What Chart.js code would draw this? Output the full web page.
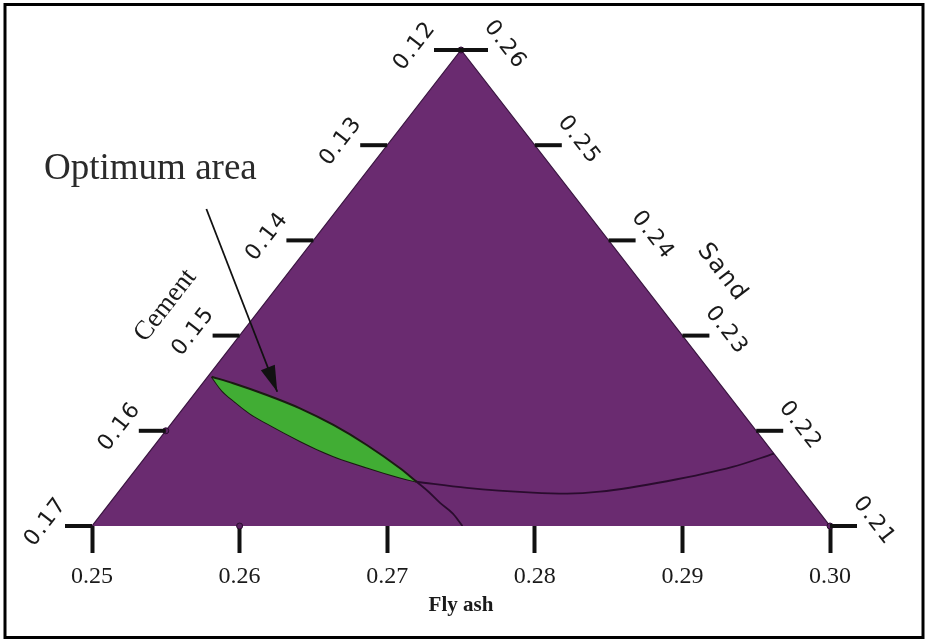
<!DOCTYPE html>
<html>
<head>
<meta charset="utf-8">
<title>Optimum area - ternary plot</title>
<script src="https://cdn.jsdelivr.net/npm/chart.js@4.4.1/dist/chart.umd.min.js"></script>
<style>
  html, body { margin: 0; padding: 0; background: #fff; }
  #wrap { position: relative; width: 929px; height: 644px; }
</style>
</head>
<body>
<div id="wrap"><canvas id="chart" width="929" height="644"></canvas></div>
<script>
// tick values of the three components, they always add up to TOTAL
const flyAshTicks = [0.25, 0.26, 0.27, 0.28, 0.29, 0.30];
const cementTicks = [0.12, 0.13, 0.14, 0.15, 0.16, 0.17];
const sandTicks = [0.21, 0.22, 0.23, 0.24, 0.25, 0.26];
const TOTAL = 0.63;

// curves as [fly ash, sand] pairs
const lensUpper = [[0.25027, 0.22568], [0.25207, 0.22499], [0.25496, 0.22376], [0.25791, 0.22236],
  [0.26105, 0.22061], [0.26436, 0.21851], [0.26784, 0.21606], [0.26967, 0.21465]];
const lensLower = [[0.25027, 0.22568], [0.25169, 0.22423], [0.25318, 0.22303], [0.25479, 0.22182],
  [0.25648, 0.22077], [0.25963, 0.21893], [0.26265, 0.21735], [0.26556, 0.21614], [0.26832, 0.21509], [0.26967, 0.21465]];
const contourRight = [[0.26967, 0.21465], [0.2734, 0.2140], [0.2781, 0.2135], [0.2805, 0.2134],
  [0.2826, 0.2136], [0.2866, 0.2147], [0.2903, 0.2162], [0.2924, 0.2176]];
const contourDown = [[0.26967, 0.21465], [0.2710, 0.2136], [0.2724, 0.2124], [0.2738, 0.2113], [0.2751, 0.2100]];
const arrowLine = [[0.2411, 0.2433], [0.2555, 0.2241]];
const markers = [[0.25, 0.26], [0.25, 0.22], [0.26, 0.21], [0.30, 0.21]];

const faMin = flyAshTicks[0], faMax = flyAshTicks[flyAshTicks.length - 1];
const sandMin = sandTicks[0], sandMax = sandTicks[sandTicks.length - 1];
const cMin = cementTicks[0];

const PURPLE = '#6a2b70';
const GREEN = '#41ad34';
const INK = '#1a1a1a';
const SERIF = "'Liberation Serif', 'Times New Roman', serif";
const SANS = "'DejaVu Sans', 'Liberation Sans', sans-serif";

// ternary composition -> plot coordinates (x on the fly ash scale, y on the sand scale)
function toXY(p) {
  return { x: p[0] + (p[1] - sandMin) / 2, y: p[1] };
}

const vA = [faMin, sandMin], vT = [faMin, sandMax], vB = [faMax, sandMin];

function line(data, color, width, order, extra) {
  return Object.assign({
    data: data.map(toXY),
    showLine: true,
    borderColor: color,
    borderWidth: width,
    pointRadius: 0,
    cubicInterpolationMode: 'monotone',
    fill: false,
    order
  }, extra || {});
}

function rotText(ctx, txt, x, y, deg) {
  ctx.save();
  ctx.translate(x, y);
  ctx.rotate(deg * Math.PI / 180);
  ctx.fillText(txt, 0, 0);
  ctx.restore();
}

const ternaryPlugin = {
  id: 'ternary',
  afterDatasetsDraw(chart) {
    // arrow head on the last segment of the arrow dataset
    const { ctx } = chart;
    const pts = chart.getDatasetMeta(5).data;
    const p0 = pts[0], p1 = pts[1];
    const a = Math.atan2(p1.y - p0.y, p1.x - p0.x);
    const len = 26, half = 7.5;
    ctx.save();
    ctx.fillStyle = '#111';
    ctx.beginPath();
    ctx.moveTo(p1.x, p1.y);
    ctx.lineTo(p1.x - len * Math.cos(a) + half * Math.sin(a), p1.y - len * Math.sin(a) - half * Math.cos(a));
    ctx.lineTo(p1.x - len * Math.cos(a) - half * Math.sin(a), p1.y - len * Math.sin(a) + half * Math.cos(a));
    ctx.closePath();
    ctx.fill();
    ctx.restore();
  },
  afterDraw(chart) {
    const { ctx, scales: { x, y } } = chart;
    const px = p => { const q = toXY(p); return { x: x.getPixelForValue(q.x), y: y.getPixelForValue(q.y) }; };
    const A = px(vA), T = px(vT), B = px(vB);
    const edgeDeg = Math.atan2(T.y - A.y, T.x - A.x) * 180 / Math.PI;

    ctx.save();
    ctx.strokeStyle = '#111';
    ctx.lineWidth = 4;
    ctx.fillStyle = INK;
    ctx.textAlign = 'center';
    ctx.textBaseline = 'middle';
    ctx.font = '22px ' + SANS;
    if ('letterSpacing' in ctx) ctx.letterSpacing = '1.5px';

    // cement ticks on the left edge
    cementTicks.forEach(c => {
      const p = px([faMin, TOTAL - faMin - c]);
      ctx.beginPath(); ctx.moveTo(p.x - 27, p.y); ctx.lineTo(p.x, p.y); ctx.stroke();
      rotText(ctx, c.toFixed(2), p.x - 46, p.y - 4, edgeDeg);
    });
    // sand ticks on the right edge
    sandTicks.forEach(s => {
      const p = px([TOTAL - cMin - s, s]);
      ctx.beginPath(); ctx.moveTo(p.x, p.y); ctx.lineTo(p.x + 27, p.y); ctx.stroke();
      rotText(ctx, s.toFixed(2), p.x + 44, p.y - 5, -edgeDeg);
    });

    // side titles
    const L = Math.hypot(T.x - A.x, T.y - A.y);
    const ul = { x: (T.x - A.x) / L, y: (T.y - A.y) / L };
    const ur = { x: (T.x - B.x) / L, y: (T.y - B.y) / L };
    ctx.font = '24px ' + SANS;
    rotText(ctx, 'Sand', B.x + ur.x * L * 0.442 - ur.y * 70, B.y + ur.y * L * 0.442 + ur.x * 70, -edgeDeg);
    if ('letterSpacing' in ctx) ctx.letterSpacing = '0px';
    ctx.font = '27px ' + SERIF;
    rotText(ctx, 'Cement', A.x + ul.x * L * 0.364 + ul.y * 77, A.y + ul.y * L * 0.364 - ul.x * 77, edgeDeg);

    // annotation text above the arrow
    const s0 = chart.getDatasetMeta(5).data[0];
    ctx.font = '37px ' + SERIF;
    ctx.fillStyle = '#2a2a2a';
    ctx.textBaseline = 'alphabetic';
    ctx.fillText('Optimum area', s0.x - 56, s0.y - 30);

    // frame
    ctx.strokeStyle = '#000';
    ctx.lineWidth = 3;
    ctx.strokeRect(5, 4.5, 918, 633);
    ctx.restore();
  }
};

new Chart(document.getElementById('chart'), {
  type: 'scatter',
  data: {
    datasets: [
      // 0 triangle body, filled down to the bottom of the sand scale
      line([vA, vT, vB], '#3a1540', 1.2, 10, { cubicInterpolationMode: 'default', tension: 0, fill: 'start', backgroundColor: PURPLE }),
      // 1,2 optimum area lens
      line(lensUpper, '#1b1b12', 2, 6, { fill: 2, backgroundColor: GREEN }),
      line(lensLower, '#1b1b12', 2, 6),
      // 3,4 contour lines
      line(contourRight, '#2a0c2e', 1.8, 4),
      line(contourDown, '#2a0c2e', 1.8, 4),
      // 5 arrow
      line(arrowLine, '#111', 1.8, 1, { cubicInterpolationMode: 'default', tension: 0 }),
      // 6 small dots at some tick positions
      {
        data: markers.map(toXY),
        pointRadius: 3,
        pointBackgroundColor: '#5b2262',
        pointBorderColor: '#2a0c2e',
        pointBorderWidth: 1,
        clip: false,
        order: 2
      }
    ]
  },
  options: {
    responsive: false,
    animation: false,
    events: [],
    layout: { padding: { left: 92, right: 99, top: 50, bottom: 0 } },
    plugins: { legend: { display: false }, tooltip: { enabled: false } },
    scales: {
      x: {
        type: 'linear',
        position: 'bottom',
        min: faMin,
        max: faMax,
        afterBuildTicks: s => { s.ticks = flyAshTicks.map(v => ({ value: v })); },
        afterFit: s => { s.height = 118; },
        border: { display: false },
        grid: { drawOnChartArea: false, drawTicks: true, tickLength: 27, tickWidth: 4, tickColor: '#111' },
        ticks: {
          padding: 9,
          autoSkip: false,
          maxRotation: 0,
          color: INK,
          font: { family: SERIF, size: 24 },
          callback: v => v.toFixed(2)
        },
        title: {
          display: true,
          text: 'Fly ash',
          color: INK,
          font: { family: SERIF, size: 21, weight: 'bold' },
          padding: { top: 0, bottom: 26 }
        }
      },
      y: { type: 'linear', display: false, min: sandMin, max: sandMax }
    }
  },
  plugins: [ternaryPlugin]
});
</script>
</body>
</html>
